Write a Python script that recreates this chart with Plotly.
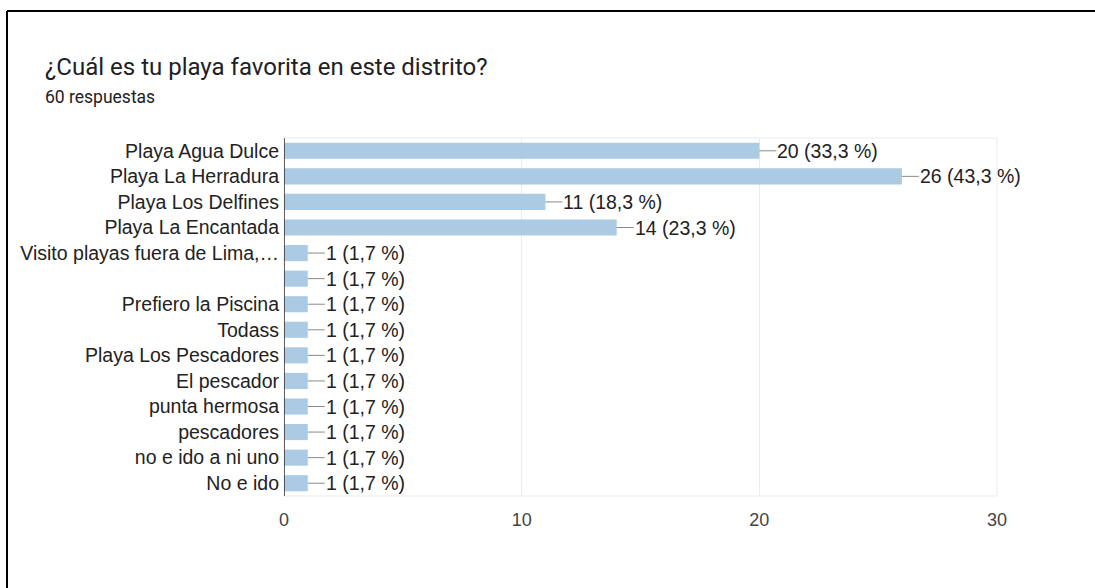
import plotly.graph_objects as go

# Survey answers (Google Forms summary)
categories = [
    "Playa Agua Dulce",
    "Playa La Herradura",
    "Playa Los Delfines",
    "Playa La Encantada",
    "Visito playas fuera de Lima,…",
    "",
    "Prefiero la Piscina",
    "Todass",
    "Playa Los Pescadores",
    "El pescador",
    "punta hermosa",
    "pescadores",
    "no e ido a ni uno",
    "No e ido",
]
counts = [20, 26, 11, 14, 1, 1, 1, 1, 1, 1, 1, 1, 1, 1]
total_responses = 60
x_ticks = [0, 10, 20, 30]

title_text = "¿Cuál es tu playa favorita en este distrito?"
subtitle_text = f"{total_responses} respuestas"

W, H = 1095, 588
ML, MR, MT, MB = 284, 98, 138, 92
PW, PH = W - ML - MR, H - MT - MB

positions = list(range(len(categories)))
LABEL_FONT = "Liberation Sans, Arial"


def px_x(px):
    return (px - ML) / PW


def px_y(py):
    return (H - MB - py) / PH


def label(v):
    pct = f"{v / total_responses * 100:.1f}".replace(".", ",")
    return f"{v} ({pct} %)"


fig = go.Figure(
    go.Bar(
        x=counts,
        y=positions,
        orientation="h",
        marker=dict(color="#abcae4", line=dict(width=0)),
        width=0.63,
        hoverinfo="skip",
    )
)

# value labels joined to the bar ends by a short leader line
for pos, v in zip(positions, counts):
    fig.add_annotation(
        x=v, y=pos, xref="x", yref="y",
        text=label(v),
        showarrow=True, arrowhead=0, arrowwidth=1, arrowcolor="#8a8a8a",
        ax=17, ay=0, xanchor="left", yanchor="middle",
        standoff=0, startstandoff=0, borderpad=0,
        font=dict(family=LABEL_FONT, size=19.5, color="#222222"),
    )

fig.add_annotation(
    x=px_x(43), y=px_y(67), xref="paper", yref="paper",
    text=title_text, showarrow=False, xanchor="left", yanchor="middle",
    font=dict(family="Roboto", size=24, color="#202124"),
)
fig.add_annotation(
    x=px_x(43), y=px_y(97), xref="paper", yref="paper",
    text=subtitle_text, showarrow=False, xanchor="left", yanchor="middle",
    font=dict(family="Roboto", size=17.5, color="#202124"),
)

# outer frame (top and left edges)
frame = dict(color="#000000", width=2)
fig.add_shape(type="line", xref="paper", yref="paper",
              x0=px_x(7), x1=px_x(W + 5), y0=px_y(11), y1=px_y(11), line=frame)
fig.add_shape(type="line", xref="paper", yref="paper",
              x0=px_x(7), x1=px_x(7), y0=px_y(11), y1=px_y(H + 5), line=frame)

# light plot-area box
fig.add_shape(type="rect", xref="paper", yref="paper",
              x0=0, x1=1, y0=0, y1=1, line=dict(color="#ebebeb", width=1),
              layer="below")

fig.update_layout(
    width=W, height=H,
    margin=dict(l=ML, r=MR, t=MT, b=MB, pad=0),
    paper_bgcolor="white", plot_bgcolor="white",
    showlegend=False,
    bargap=0.37,
    xaxis=dict(
        range=[0, 30], tickvals=x_ticks, ticktext=[str(t) for t in x_ticks],
        showgrid=True, gridcolor="#ebebeb", gridwidth=1,
        zeroline=False, showline=False, ticks="",
        tickfont=dict(family=LABEL_FONT, size=18, color="#444444"),
        ticklabelstandoff=11, fixedrange=True,
    ),
    yaxis=dict(
        tickmode="array", tickvals=positions, ticktext=categories,
        range=[len(categories) - 0.5, -0.5],
        showgrid=False, zeroline=False,
        showline=False, ticks="",
        tickfont=dict(family=LABEL_FONT, size=19.5, color="#222222"),
        ticklabelstandoff=4, fixedrange=True,
    ),
)

# dark baseline at zero
fig.add_shape(type="line", xref="x", yref="paper",
              x0=0, x1=0, y0=0, y1=1, line=dict(color="#333333", width=1.5))

fig.write_html("out.html", config={"displayModeBar": False})
